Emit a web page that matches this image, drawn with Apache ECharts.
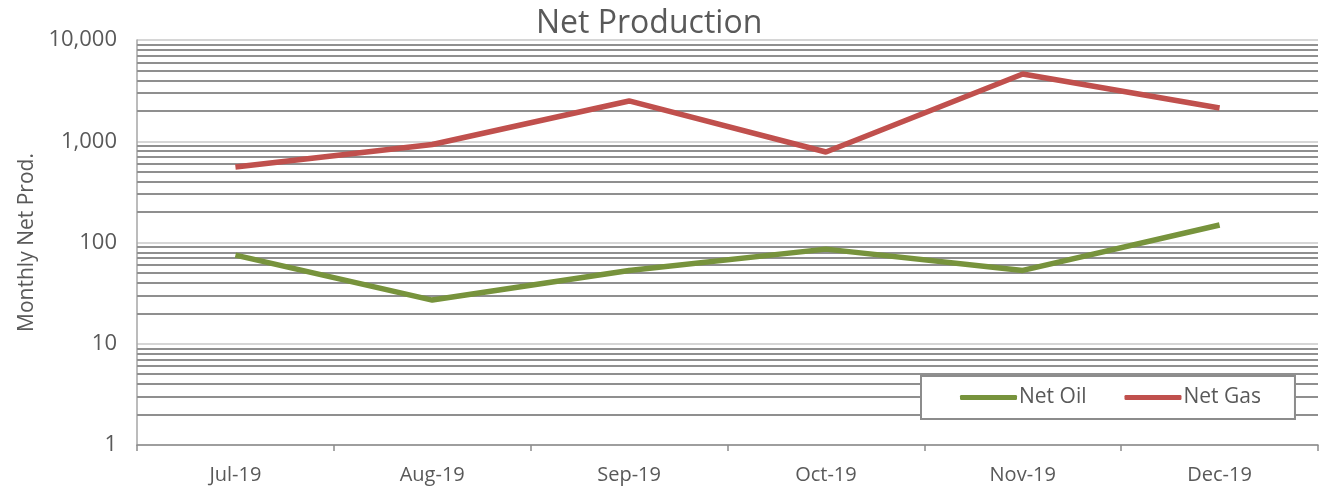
<!DOCTYPE html>
<html><head><meta charset="utf-8">
<script src="https://cdn.jsdelivr.net/npm/echarts@6/dist/echarts.min.js"></script>
<style>html,body{margin:0;padding:0;background:#fff}#c{width:1329px;height:489px}</style>
</head><body><div id="c"></div>
<script>
const categories = ['Jul-19','Aug-19','Sep-19','Oct-19','Nov-19','Dec-19'];
const netOil = [75, 27, 53, 86, 53, 149];
const netGas = [557, 930, 2500, 783, 4620, 2130];
const minorGridValues = [2,3,4,5,6,7,8,9,20,30,40,50,60,70,80,90,200,300,400,500,600,700,800,900,2000,3000,4000,5000,6000,7000,8000,9000];

const font = '"Open Sans", "Liberation Sans", sans-serif';
const chart = echarts.init(document.getElementById('c'));
chart.setOption({
  animation: false,
  title: { text: 'Net Production', left: 531, top: 3,
    textStyle: { fontFamily: font, fontSize: 32, fontWeight: 'normal', color: '#595959' } },
  grid: { left: 137, right: 11, top: 40, bottom: 44 },
  legend: {
    data: ['Net Oil', 'Net Gas'],
    left: 921, top: 376, zlevel: 1,
    backgroundColor: '#fff', borderColor: '#8c8c8c', borderWidth: 2,
    padding: [11, 34, 11, 39], itemGap: 38,
    icon: 'roundRect', itemWidth: 57, itemHeight: 5,
    textStyle: { fontFamily: font, fontSize: 21, color: '#595959', padding: [0,0,0,-3] }
  },
  xAxis: {
    type: 'category', data: categories, boundaryGap: true,
    axisLine: { lineStyle: { color: '#8c8c8c', width: 1.5 } },
    axisTick: { show: true, length: 6, lineStyle: { color: '#8c8c8c', width: 1.5 } },
    axisLabel: { fontFamily: font, fontSize: 20, color: '#595959', margin: 20 }
  },
  yAxis: {
    type: 'log', logBase: 10, min: 1, max: 10000,
    name: 'Monthly Net Prod.', nameLocation: 'middle', nameGap: 97, nameRotate: 90,
    nameTextStyle: { fontFamily: font, fontSize: 21, color: '#595959' },
    axisLine: { show: true, lineStyle: { color: '#a6a6a6', width: 1.5 } },
    axisTick: { show: false },
    axisLabel: { fontFamily: font, fontSize: 22, color: '#595959', margin: 20,
      formatter: v => Number(v).toLocaleString('en-US') },
    splitLine: { show: true, lineStyle: { color: '#c8c8c8', width: 1.5 } }
  },
  series: [
    { name: 'minor', type: 'line', data: [], silent: true,
      markLine: { silent: true, symbol: 'none', label: { show: false },
        lineStyle: { color: '#8f8f8f', width: 2, type: 'solid' },
        data: minorGridValues.map(v => ({ yAxis: v })) } },
    { name: 'Net Oil', type: 'line', data: netOil, showSymbol: false, symbol: 'none',
      lineStyle: { color: '#77933c', width: 5.5 }, itemStyle: { color: '#77933c' }, z: 5 },
    { name: 'Net Gas', type: 'line', data: netGas, showSymbol: false, symbol: 'none',
      lineStyle: { color: '#c0504d', width: 5.5 }, itemStyle: { color: '#c0504d' }, z: 5 }
  ]
});
</script></body></html>
